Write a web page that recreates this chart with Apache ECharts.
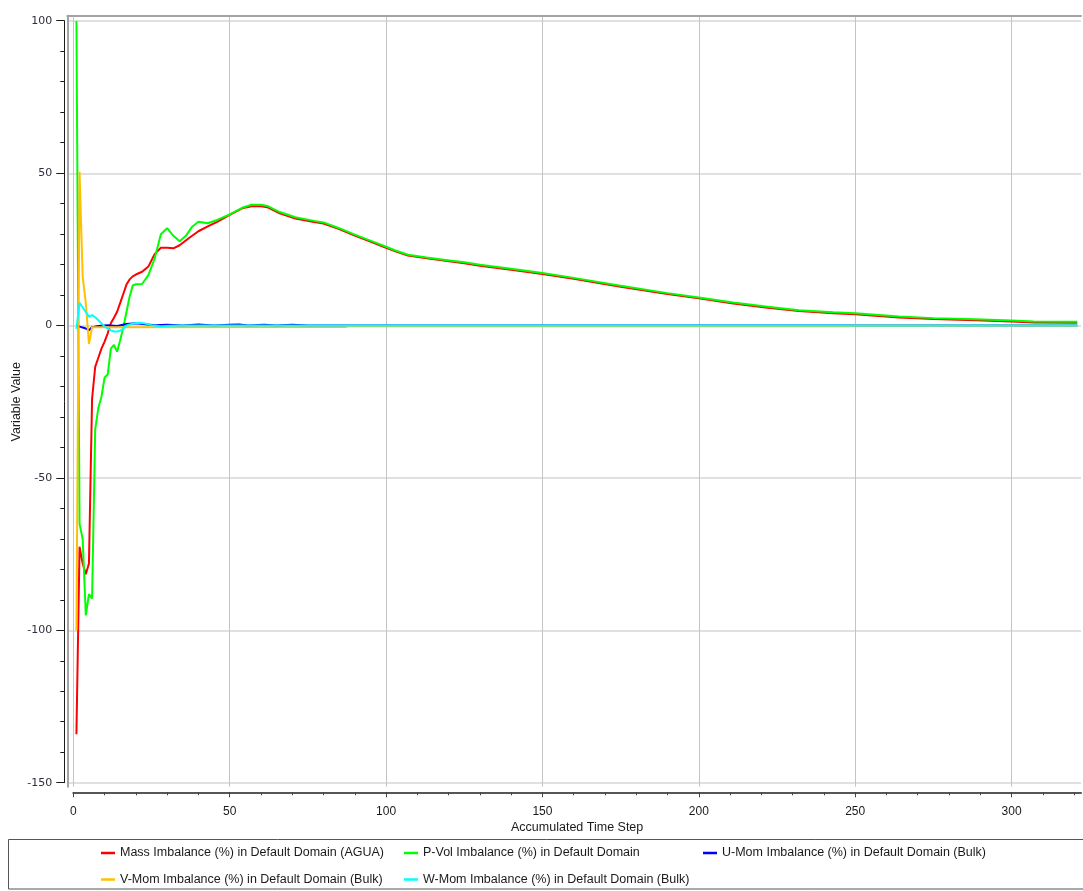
<!DOCTYPE html>
<html>
<head>
<meta charset="utf-8">
<script src="https://cdn.jsdelivr.net/npm/echarts@6/dist/echarts.min.js"></script>
<style>
  html, body { margin: 0; padding: 0; background: #ffffff; }
  #chart { width: 1083px; height: 891px; }
</style>
</head>
<body>
<div id="chart"></div>
<script>
// Residual imbalances of the solver, per accumulated time step.
const seriesNames = [
  'Mass Imbalance (%) in Default Domain (AGUA)',
  'P-Vol Imbalance (%) in Default Domain',
  'U-Mom Imbalance (%) in Default Domain (Bulk)',
  'V-Mom Imbalance (%) in Default Domain (Bulk)',
  'W-Mom Imbalance (%) in Default Domain (Bulk)'
];
const seriesColors = ['#ff0000', '#00ff00', '#0000ff', '#ffc000', '#00ffff'];

const massSteps = [1,2,3,4,5,6,7,8,9,10,11,12,13,14,15,16,17,18,19,20,22,24,26,28,30,32,34,37,40,43,46,50,54,57,60,62,66,71,77,80,85,90,96,100,103,107,113,119,125,130,140,150,160,175,190,200,211,222,232,243,250,264,275,286,300,307,321];
const massValues = [-134,-72.5,-78,-81.5,-78,-24,-13.5,-10.5,-7.5,-5.2,-2.5,0.8,2.6,4.6,7.5,10.5,13.5,15.2,16.2,16.8,17.7,19.4,23.5,25.6,25.6,25.4,26.4,28.8,31,32.6,34.1,36.4,38.5,39.2,39.2,38.9,36.9,35.2,34,33.5,31.7,29.6,27.2,25.6,24.4,23,22.1,21.3,20.5,19.7,18.4,17,15.4,12.8,10.4,9,7.3,5.9,4.8,4.1,3.8,2.7,2.2,1.9,1.4,1.1,1.0];

const pvolSteps = [1,2,3,4,5,6,7,8,9,10,11,12,13,14,15,16,17,18,19,20,22,24,26,28,30,32,34,36,38,40,43,46,50,54,57,60,62,66,71,77,80,85,90,96,100,103,107,113,119,125,130,140,150,160,175,190,200,211,222,232,243,250,264,275,286,300,307,321];
const pvolValues = [100,-65,-70,-95,-88,-89.5,-34,-27,-23.3,-17,-16,-7.5,-6.3,-8.5,-4.7,-0.5,4.5,9.5,13.2,13.6,13.7,16.6,22,30,32,29.5,27.7,29.5,32.5,34.1,33.6,34.7,36.5,38.7,39.7,39.7,39.3,37.3,35.6,34.4,33.9,32,29.9,27.5,25.9,24.7,23.3,22.4,21.6,20.8,20,18.7,17.3,15.7,13.1,10.7,9.3,7.6,6.2,5.1,4.4,4.1,3,2.5,2.2,1.7,1.4,1.3];

const uMomSteps = [1,2,3,4,5,6,8,11,14,17,20,23,26,30,35,40,45,50,53,56,61,65,70,75,321];
const uMomValues = [0,-0.3,-0.6,-0.9,-1.5,-0.5,-0.1,0.2,-0.1,0.6,0.8,0.5,0.2,0.3,0.1,0.4,0.1,0.3,0.4,0.1,0.3,0.1,0.3,0.05,0.05];

const vMomSteps = [1,2,3,4,5,6,87,88,248,249,321];
const vMomValues = [-100,50.5,16,7.5,-6,-0.5,-0.4,-0.2,-0.2,0,0];

const wMomSteps = [1,2,3,4,5,6,7,8,9,10,11,12,13,14,15,16,17,19,21,23,25,28,31,35,321];
const wMomValues = [-1,7.5,6,4.5,3,3.5,2.8,1.8,0.8,-0.3,-0.9,-1.5,-1.9,-1.9,-1.6,-1.0,0.1,0.7,1.0,0.7,0.2,-0.2,0,0.1,0.1];

// Tick labels of the two visible axes
const xTickValues = [0, 50, 100, 150, 200, 250, 300];
const xMinorTickValues = [10,20,30,40,60,70,80,90,110,120,130,140,160,170,180,190,210,220,230,240,260,270,280,290,310,320];
const yTickValues = [-150, -100, -50, 0, 50, 100];

const TEXT_FONT = 'Liberation Sans';
const pair = (xs, ys) => xs.map((x, i) => [x, ys[i]]);
const seriesData = [
  pair(massSteps, massValues),
  pair(pvolSteps, pvolValues),
  pair(uMomSteps, uMomValues),
  pair(vMomSteps, vMomValues),
  pair(wMomSteps, wMomValues)
];

// plot area slightly wider than the labelled ranges
const X_MIN = -1.92, X_MAX = 322.2;
const Y_MIN = -151.2, Y_MAX = 101.7;

const chart = echarts.init(document.getElementById('chart'), null, { renderer: 'canvas' });

const legendSlots = [
  { left: 101, top: 846.5 },
  { left: 404, top: 846.5 },
  { left: 703, top: 846.5 },
  { left: 101, top: 873 },
  { left: 404, top: 873 }
];

const option = {
  animation: false,
  backgroundColor: '#ffffff',
  textStyle: { fontFamily: TEXT_FONT },
  grid: [
    // plot area
    { left: 67.3, right: 2, top: 15.7, bottom: 104.3, outerBoundsMode: 'none' },
    // value axis strip on the left
    { left: 64.3, width: 1, top: 20.7, bottom: 108.3, outerBoundsMode: 'none' },
    // time step axis strip below
    { left: 73.3, right: 2, top: 791.3, height: 1, outerBoundsMode: 'none' }
  ],
  xAxis: [
    {
      type: 'value', gridIndex: 0, position: 'bottom', min: X_MIN, max: X_MAX,
      axisLine: { show: false }, axisTick: { show: false }, axisLabel: { show: false },
      splitLine: { show: true, showMinLine: false, showMaxLine: false, lineStyle: { color: '#c4c4c4', width: 1 } }
    },
    {
      type: 'value', gridIndex: 0, position: 'top', min: X_MIN, max: X_MAX,
      axisLine: { show: true, onZero: false, lineStyle: { color: '#a3a3a3', width: 2 } },
      axisTick: { show: false }, axisLabel: { show: false }, splitLine: { show: false }
    },
    { type: 'value', gridIndex: 1, show: false },
    {
      type: 'value', gridIndex: 2, position: 'bottom', min: 0, max: X_MAX,
      name: 'Accumulated Time Step', nameLocation: 'middle', nameGap: 29,
      nameTextStyle: { fontFamily: TEXT_FONT, fontSize: 12.5, color: '#1a1a1a' },
      axisLine: { show: true, onZero: false, lineStyle: { color: '#555555', width: 2 } },
      axisTick: { show: true, inside: false, length: 5, customValues: xTickValues, lineStyle: { color: '#444444', width: 1 } },
      axisLabel: { show: true, customValues: xTickValues, margin: 13, fontFamily: TEXT_FONT, fontSize: 12, color: '#1a1a1a' },
      splitLine: { show: false }
    },
    {
      type: 'value', gridIndex: 2, position: 'bottom', min: 0, max: X_MAX,
      axisLine: { show: false },
      axisTick: { show: true, inside: false, length: 3, customValues: xMinorTickValues, lineStyle: { color: '#444444', width: 1 } },
      axisLabel: { show: false }, splitLine: { show: false }
    }
  ],
  yAxis: [
    {
      type: 'value', gridIndex: 0, position: 'left', min: Y_MIN, max: Y_MAX,
      axisLine: { show: true, onZero: false, lineStyle: { color: '#a3a3a3', width: 2 } },
      axisTick: { show: false }, axisLabel: { show: false },
      splitLine: { show: true, showMinLine: false, showMaxLine: false, lineStyle: { color: '#d6d6d6', width: 1.5 } }
    },
    {
      type: 'value', gridIndex: 1, position: 'left', min: -150, max: 100, interval: 50,
      name: 'Variable Value', nameLocation: 'middle', nameGap: 38,
      nameTextStyle: { fontFamily: TEXT_FONT, fontSize: 12.5, color: '#1a1a1a' },
      axisLine: { show: true, onZero: false, lineStyle: { color: '#1a1a1a', width: 1 } },
      axisTick: { show: true, inside: false, length: 8, lineStyle: { color: '#1a1a1a', width: 1 } },
      minorTick: { show: true, splitNumber: 5, length: 4, lineStyle: { color: '#1a1a1a', width: 1 } },
      axisLabel: { show: true, customValues: yTickValues, margin: 12, fontFamily: 'DejaVu Sans', fontSize: 11, color: '#2e2e3c' },
      splitLine: { show: false }
    },
    { type: 'value', gridIndex: 2, show: false }
  ],
  legend: legendSlots.map((slot, i) => ({
    data: [seriesNames[i]],
    left: slot.left,
    top: slot.top,
    orient: 'horizontal',
    padding: 0,
    icon: 'rect',
    itemWidth: 14,
    itemHeight: 2.5,
    selectedMode: false,
    textStyle: { fontFamily: TEXT_FONT, fontSize: 12.5, color: '#1a1a1a' }
  })),
  graphic: [
    {
      type: 'rect', silent: true,
      shape: { x: 8.5, y: 839.5, width: 1090, height: 49.5 },
      style: { fill: 'none', stroke: '#555555', lineWidth: 1 }
    }
  ],
  series: seriesNames.map((name, i) => ({
    name: name,
    type: 'line',
    xAxisIndex: 0,
    yAxisIndex: 0,
    data: seriesData[i],
    symbol: 'none',
    showSymbol: false,
    smooth: false,
    color: seriesColors[i],
    lineStyle: { color: seriesColors[i], width: 2 },
    itemStyle: { color: seriesColors[i] },
    emphasis: { disabled: true }
  }))
};

chart.setOption(option);
</script>
</body>
</html>
